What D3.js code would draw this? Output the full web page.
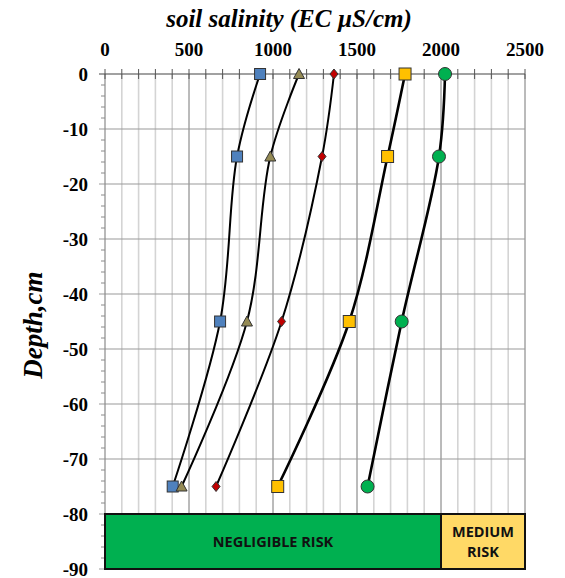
<!DOCTYPE html>
<html><head><meta charset="utf-8">
<script src="https://cdn.jsdelivr.net/npm/d3@7"></script>
<style>body{margin:0;background:#fff}</style>
</head><body>
<svg id="c" width="565" height="578"></svg>
<script>
const depths = [0, -15, -45, -75];
const seriesBlue = [923, 786, 685, 403];
const seriesOlive = [1155, 984, 845, 456];
const seriesRed = [1363, 1292, 1051, 661];
const seriesYellow = [1786, 1682, 1454, 1028];
const seriesGreen = [2024, 1988, 1766, 1563];
const xTicks = [0, 500, 1000, 1500, 2000, 2500];
const yTicks = [0, -10, -20, -30, -40, -50, -60, -70, -80, -90];
const riskBands = [
  {label: ["NEGLIGIBLE RISK"], from: 0, to: 2000, color: "#00b050"},
  {label: ["MEDIUM", "RISK"], from: 2000, to: 2500, color: "#ffd966"}
];
const series = [
  {values: seriesBlue, shape: "square", fill: "#4f81bd", size: 11, lw: 2},
  {values: seriesOlive, shape: "triangle", fill: "#948a54", size: 11, lw: 2},
  {values: seriesRed, shape: "diamond", fill: "#c00000", size: 8, lw: 2},
  {values: seriesYellow, shape: "square", fill: "#ffc000", size: 12, lw: 2.6},
  {values: seriesGreen, shape: "circle", fill: "#00b050", size: 12, lw: 2.6}
];

const svg = d3.select("#c");
const x = d3.scaleLinear().domain([0, 2500]).range([105, 525]);
const y = d3.scaleLinear().domain([0, -90]).range([74, 569]);

const g = svg.append("g");
g.selectAll(".vmin").data(d3.range(100, 2501, 100).filter(v => v % 500 !== 0)).join("line")
  .attr("x1", d => x(d)).attr("x2", d => x(d)).attr("y1", y(0)).attr("y2", y(-90))
  .attr("stroke", "#d4d4d4").attr("stroke-width", 1.6);
g.selectAll(".vmaj").data(d3.range(500, 2501, 500)).join("line")
  .attr("x1", d => x(d)).attr("x2", d => x(d)).attr("y1", y(0)).attr("y2", y(-90))
  .attr("stroke", "#777").attr("stroke-width", 1);
g.selectAll(".hg").data(yTicks.filter(v => v !== 0)).join("line")
  .attr("x1", 99).attr("x2", x(2500)).attr("y1", d => y(d)).attr("y2", d => y(d))
  .attr("stroke", "#9a9a9a").attr("stroke-width", 1.2);

g.append("line").attr("x1", 105).attr("x2", 105).attr("y1", y(0)).attr("y2", y(-90))
  .attr("stroke", "#8a8a8a").attr("stroke-width", 1.2);
g.selectAll(".ymin").data(d3.range(0, -91, -2).filter(v => v % 10 !== 0)).join("line")
  .attr("x1", 101).attr("x2", 105).attr("y1", d => y(d)).attr("y2", d => y(d))
  .attr("stroke", "#8a8a8a").attr("stroke-width", 1);

g.append("line").attr("x1", 99).attr("x2", x(2500)).attr("y1", y(0)).attr("y2", y(0))
  .attr("stroke", "#444").attr("stroke-width", 1.2);
g.selectAll(".xt").data(d3.range(0, 2501, 100)).join("line")
  .attr("x1", d => x(d)).attr("x2", d => x(d)).attr("y1", 69).attr("y2", 79)
  .attr("stroke", "#555").attr("stroke-width", 1);

svg.selectAll(".xl").data(xTicks).join("text")
  .attr("x", d => x(d)).attr("y", 56).attr("text-anchor", "middle")
  .attr("font-family", "Liberation Serif").attr("font-weight", "bold").attr("font-size", 19)
  .text(d => d);
svg.selectAll(".yl").data(yTicks).join("text")
  .attr("x", 88).attr("y", d => y(d) + 6.5).attr("text-anchor", "end")
  .attr("font-family", "Liberation Serif").attr("font-weight", "bold").attr("font-size", 19)
  .text(d => d);

svg.append("text").attr("x", 289).attr("y", 27).attr("text-anchor", "middle")
  .attr("font-family", "Liberation Serif").attr("font-weight", "bold").attr("font-style", "italic")
  .attr("font-size", 25).text("soil salinity (EC µS/cm)");
svg.append("text").attr("transform", "translate(42,325) rotate(-90)").attr("text-anchor", "middle")
  .attr("font-family", "Liberation Serif").attr("font-weight", "bold").attr("font-style", "italic")
  .attr("font-size", 27).text("Depth,cm");

riskBands.forEach(b => {
  svg.append("rect").attr("x", x(b.from)).attr("y", y(-80)).attr("width", x(b.to) - x(b.from))
    .attr("height", y(-90) - y(-80)).attr("fill", b.color).attr("stroke", "#111").attr("stroke-width", 2);
  const cx = (x(b.from) + x(b.to)) / 2, cy = (y(-80) + y(-90)) / 2;
  const n = b.label.length;
  b.label.forEach((t, i) => {
    svg.append("text").attr("x", cx).attr("y", cy + (i - (n - 1) / 2) * 20 + 5)
      .attr("text-anchor", "middle").attr("font-family", "Open Sans").attr("font-weight", "bold")
      .attr("font-size", 14.5).attr("fill", "#111").text(t);
  });
});

const line = d3.line().x(d => x(d[0])).y(d => y(d[1])).curve(d3.curveCatmullRom.alpha(0.5));
series.forEach(s => {
  const pts = s.values.map((v, i) => [v, depths[i]]);
  svg.append("path").attr("d", line(pts)).attr("fill", "none").attr("stroke", "#000").attr("stroke-width", s.lw);
});
series.forEach(s => {
  s.values.forEach((v, i) => {
    const px = x(v), py = y(depths[i]), r = s.size / 2;
    let el;
    if (s.shape === "square") el = svg.append("rect").attr("x", px - r).attr("y", py - r).attr("width", s.size).attr("height", s.size);
    else if (s.shape === "circle") el = svg.append("circle").attr("cx", px).attr("cy", py).attr("r", r + 0.5);
    else if (s.shape === "diamond") el = svg.append("path").attr("d", `M${px},${py - r - 1}L${px + r},${py}L${px},${py + r + 1}L${px - r},${py}Z`);
    else el = svg.append("path").attr("d", `M${px},${py - r}L${px + r},${py + r - 1}L${px - r},${py + r - 1}Z`);
    el.attr("fill", s.fill).attr("stroke", "#333").attr("stroke-width", 1);
  });
});
</script>
</body></html>
